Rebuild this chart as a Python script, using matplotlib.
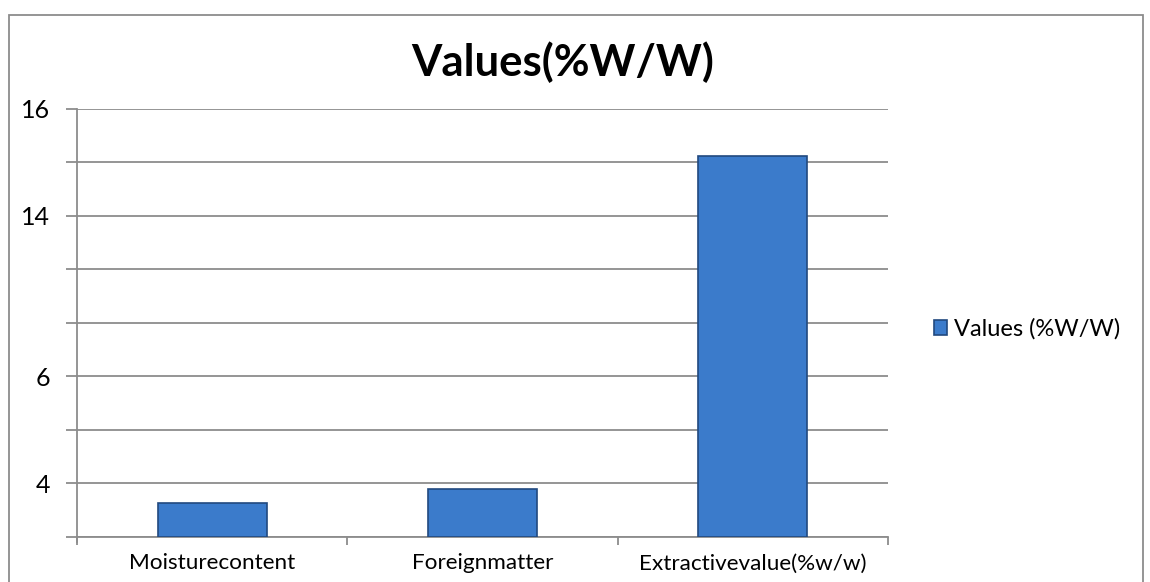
import matplotlib.pyplot as plt
from matplotlib.patches import Rectangle

categories = ["Moisturecontent", "Foreignmatter", "Extractivevalue(%w/w)"]
values = [0.636, 0.89, 7.12]
grid_levels = [0, 1, 2, 3, 4, 5, 6, 7, 8]
grid_labels = ["", "4", "", "6", "", "", "14", "", "16"]
series_name = "Values (%W/W)"
title = "Values(%W/W)"

plt.rcParams["font.family"] = ["Lato", "DejaVu Sans"]

fig = plt.figure(figsize=(11.5, 5.82), dpi=100)
ax = fig.add_axes([77 / 1150, 1 - 536.7 / 582, (888 - 77) / 1150, (536.7 - 108.7) / 582])

# chart frame
fig.patches.append(Rectangle((9 / 1150, -0.1), (1143 - 9) / 1150, 1.1 - 15 / 582,
                             transform=fig.transFigure, fill=False,
                             edgecolor="#8c8c8c", linewidth=1.3))

x = range(len(categories))
bars = ax.bar(x, values, width=0.403, color="#3b7bcb", edgecolor="#21497f",
              linewidth=1.2, label=series_name, zorder=3)

ax.set_xlim(-0.5, len(categories) - 0.5)
ax.set_ylim(0, 8)
ax.set_yticks(grid_levels)
ax.set_yticklabels(grid_labels)
ax.yaxis.grid(True, color="#8c8c8c", linewidth=1.3)
ax.set_axisbelow(True)

ax.set_xticks([i + 0.5 for i in range(-1, len(categories))], minor=False)
ax.set_xticklabels([])
ax.set_xticks(list(x), minor=True)
ax.set_xticklabels(categories, minor=True)
ax.tick_params(axis="x", which="major", length=6, color="#8c8c8c", width=1.3)
ax.tick_params(axis="x", which="minor", length=0, pad=12, labelsize=16.2)
ax.tick_params(axis="y", length=8, color="#8c8c8c", width=1.3, pad=11.5, labelsize=18)

for side in ["top", "right"]:
    ax.spines[side].set_visible(False)
ax.spines["left"].set_color("#8c8c8c")
ax.spines["left"].set_linewidth(1.3)
ax.spines["left"].set_bounds(-0.1, 8)
ax.spines["bottom"].set_color("#8c8c8c")
ax.spines["bottom"].set_linewidth(1.3)

fig.text(0.489, 1 - 62 / 582, title, ha="center", va="center",
         fontsize=31.5, fontweight="bold")

ax.legend(loc="center left", bbox_to_anchor=(1.031, 0.485), frameon=False,
          fontsize=17, handlelength=0.55, handleheight=0.55, handletextpad=0.3)

fig.savefig("out.png", dpi=100)
